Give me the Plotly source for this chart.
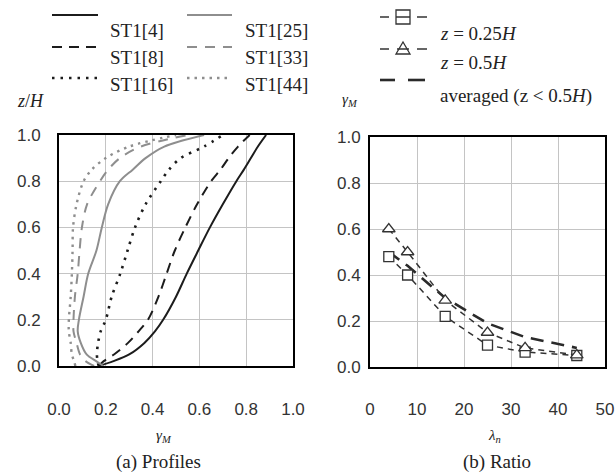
import plotly.graph_objects as go

# ---------------- data ----------------
z_levels = [0.0, 0.02, 0.05, 0.1, 0.15, 0.2, 0.3, 0.4, 0.5, 0.6, 0.7, 0.8, 0.85, 0.9, 0.95, 1.0]
st1_4 = [0.17, 0.23, 0.30, 0.365, 0.41, 0.445, 0.50, 0.546, 0.595, 0.645, 0.70, 0.758, 0.79, 0.82, 0.85, 0.885]
st1_8 = [0.17, 0.19, 0.235, 0.295, 0.34, 0.38, 0.425, 0.46, 0.495, 0.54, 0.59, 0.65, 0.69, 0.725, 0.765, 0.815]
st1_16 = [0.17, 0.165, 0.162, 0.167, 0.178, 0.20, 0.225, 0.262, 0.293, 0.325, 0.37, 0.435, 0.47, 0.52, 0.62, 0.70]
st1_25 = [0.19, 0.16, 0.118, 0.093, 0.08, 0.085, 0.105, 0.125, 0.16, 0.183, 0.21, 0.26, 0.315, 0.37, 0.45, 0.62]
st1_33 = [0.15, 0.115, 0.09, 0.075, 0.062, 0.062, 0.068, 0.08, 0.088, 0.098, 0.12, 0.175, 0.21, 0.26, 0.35, 0.55]
st1_44 = [0.07, 0.065, 0.055, 0.05, 0.042, 0.042, 0.05, 0.055, 0.058, 0.06, 0.075, 0.105, 0.14, 0.20, 0.30, 0.50]

lam = [4, 8, 16, 25, 33, 44]
ratio_z025 = [0.48, 0.40, 0.22, 0.095, 0.065, 0.05]
ratio_z05 = [0.60, 0.50, 0.29, 0.15, 0.083, 0.052]
ratio_avg = [0.50, 0.44, 0.30, 0.19, 0.13, 0.083]

x_ticks_a = [0.0, 0.2, 0.4, 0.6, 0.8, 1.0]
y_ticks = [0.0, 0.2, 0.4, 0.6, 0.8, 1.0]
x_ticks_b = [0, 10, 20, 30, 40, 50]

# ---------------- styles ----------------
W, H = 615, 475
BLACK = "#1c1c1c"
GRAY = "#8e8e8e"
SERIF = "Liberation Serif"
SANS = "Liberation Sans"

profile_styles = [
    ("ST1[4]", st1_4, BLACK, "solid", 2),
    ("ST1[8]", st1_8, BLACK, "10px,7px", 2),
    ("ST1[16]", st1_16, BLACK, "2.5px,6px", 2.6),
    ("ST1[25]", st1_25, GRAY, "solid", 2),
    ("ST1[33]", st1_33, GRAY, "10px,8px", 2),
    ("ST1[44]", st1_44, GRAY, "2.5px,5px", 2.4),
]

fig = go.Figure()

for name, vals, col, dash, lw in profile_styles:
    fig.add_trace(go.Scatter(
        x=vals, y=z_levels, mode="lines", name=name,
        line=dict(color=col, dash=dash, width=lw, shape="spline", smoothing=0.9),
        xaxis="x", yaxis="y", showlegend=False))

fig.add_trace(go.Scatter(
    x=lam, y=ratio_avg, mode="lines", name="averaged",
    line=dict(color="#2a2a2a", dash="13px,8px", width=2.6),
    xaxis="x2", yaxis="y2", showlegend=False))
fig.add_trace(go.Scatter(
    x=lam, y=ratio_z025, mode="lines+markers", name="z=0.25H",
    line=dict(color="#333333", dash="6px,5px", width=1.5),
    marker=dict(symbol="square", size=10, color="white", line=dict(color="#333333", width=1.3)),
    xaxis="x2", yaxis="y2", showlegend=False))
fig.add_trace(go.Scatter(
    x=lam, y=ratio_z05, mode="lines+markers", name="z=0.5H",
    line=dict(color="#333333", dash="6px,5px", width=1.5),
    marker=dict(symbol="triangle-up", size=11, color="white", line=dict(color="#333333", width=1.3)),
    xaxis="x2", yaxis="y2", showlegend=False))

def px(x):
    return x / W

def py(y):
    return 1 - y / H

axis_common = dict(
    showline=True, linecolor="black", linewidth=2, mirror=True,
    showgrid=True, gridcolor="#c4c4c4", gridwidth=1, automargin=False,
    zeroline=False, ticks="", tickfont=dict(family=SANS, size=17, color="#333333"),
)

fig.update_layout(
    template="none",
    width=W, height=H, autosize=False, showlegend=False,
    margin=dict(l=0, r=0, t=0, b=0, pad=0),
    paper_bgcolor="white", plot_bgcolor="white",
    xaxis=dict(domain=[px(59), px(293)], range=[0, 1], tickvals=x_ticks_a, tickformat=".1f",
               anchor="y", ticklabelstandoff=27, **axis_common),
    yaxis=dict(domain=[py(366), py(135)], range=[0, 1], tickvals=y_ticks, tickformat=".1f",
               anchor="x", ticklabelstandoff=13, **axis_common),
    xaxis2=dict(domain=[px(370), px(605)], range=[0, 50], tickvals=x_ticks_b,
                anchor="y2", ticklabelstandoff=26, **axis_common),
    yaxis2=dict(domain=[py(367), py(137)], range=[0, 1], tickvals=y_ticks, tickformat=".1f",
                anchor="x2", ticklabelstandoff=4, **axis_common),
)

ann = []
def text(x, y, s, size=19, anchor="center", family=SERIF, color="#222222"):
    ann.append(dict(x=px(x), y=py(y), xref="paper", yref="paper", text=s, showarrow=False,
                    xanchor=anchor, yanchor="middle", font=dict(family=family, size=size, color=color)))

# axis titles
text(30, 101, "<i>z</i>/<i>H</i>", size=18)
text(350, 100, "<i>γ<sub>M</sub></i>", size=15)
text(164, 436, "<i>γ<sub>M</sub></i>", size=15)
text(494, 436, "<i>λ<sub>n</sub></i>", size=15)
text(158, 462, "(a) Profiles", size=19)
text(497, 462, "(b) Ratio", size=19)

shapes = []
def lshape(x0, x1, y, col, dash, lw):
    shapes.append(dict(type="line", xref="paper", yref="paper", x0=px(x0), x1=px(x1),
                       y0=py(y), y1=py(y), line=dict(color=col, dash=dash, width=lw)))

# legend columns 1 & 2
rows_y_line = [15, 47, 78]
rows_y_lab = [31, 57, 84]
for i, (name, vals, col, dash, lw) in enumerate(profile_styles):
    colidx, row = divmod(i, 3)
    lx0, lx1, tx = [(52, 98, 108), (187, 232, 243)][colidx]
    lshape(lx0, lx1, rows_y_line[row], col, dash, lw)
    text(tx, rows_y_lab[row], name, size=19, anchor="left")

# legend column 3
lshape(380, 389, 17, "#333333", "solid", 1.5)
lshape(396, 410, 17, "#333333", "solid", 1.5)
lshape(417, 427, 17, "#333333", "solid", 1.5)
shapes.append(dict(type="rect", xref="paper", yref="paper", x0=px(396), x1=px(410),
                   y0=py(10), y1=py(24), line=dict(color="#333333", width=1.3), fillcolor="rgba(0,0,0,0)"))
text(438, 33, "<i>z</i> = 0.25<i>H</i>", size=19, anchor="left")

lshape(380, 389, 49, "#333333", "solid", 1.5)
lshape(417, 427, 49, "#333333", "solid", 1.5)
lshape(397, 409, 49, "#333333", "solid", 1.5)
shapes.append(dict(type="path", xref="paper", yref="paper",
                   path="M {} {} L {} {} L {} {} Z".format(px(396), py(54), px(410), py(54), px(403), py(42)),
                   line=dict(color="#333333", width=1.3), fillcolor="rgba(0,0,0,0)"))
text(438, 62, "<i>z</i> = 0.5<i>H</i>", size=19, anchor="left")

lshape(380, 395, 80, "#2a2a2a", "solid", 2.6)
lshape(408, 425, 80, "#2a2a2a", "solid", 2.6)
text(438, 96, "averaged (z &lt; 0.5<i>H</i>)", size=19, anchor="left")

fig.update_layout(annotations=ann, shapes=shapes)
fig.write_html(
    "out.html",
    config={"responsive": False, "displayModeBar": False},
    post_script="document.body.style.margin='0';document.body.style.overflow='hidden';",
)
